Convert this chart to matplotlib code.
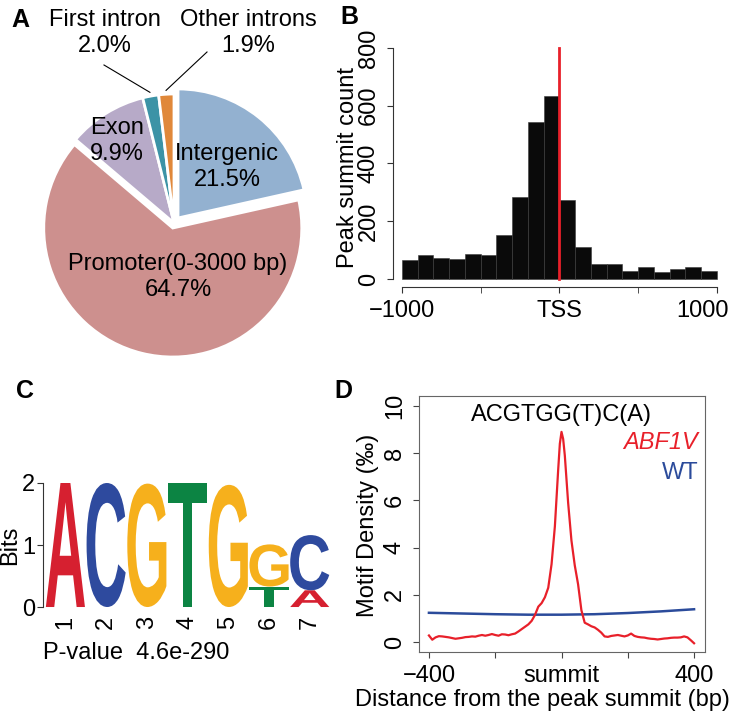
import numpy as np
import matplotlib
matplotlib.use('Agg')
import matplotlib.pyplot as plt
import matplotlib.transforms as mtransforms
from matplotlib.textpath import TextPath
from matplotlib.patches import PathPatch
from matplotlib.font_manager import FontProperties

plt.rcParams['font.family'] = ['Liberation Sans', 'DejaVu Sans']
FS = 17

# ---- data ----
# A: peak annotation
pie_labels = ['Intergenic', 'Promoter(0-3000 bp)', 'Exon', 'First intron', 'Other introns']
pie_pct = [21.5, 64.7, 9.9, 2.0, 1.9]
pie_colors = ['#93B1D0', '#CD908E', '#B7AAC8', '#3C93A6', '#E0883A']

# B: summit distance histogram (100 bp bins)
bin_edges = np.arange(-1000, 1001, 100)
summit_counts = [67, 84, 72, 69, 87, 82, 152, 284, 543, 633,
                 273, 110, 53, 53, 26, 41, 24, 36, 40, 29]

# C: motif logo (bottom -> top per position)
logo_letters = [['A'], ['C'], ['G'], ['T'], ['G'], ['T', 'G'], ['A', 'C']]
logo_heights = [[2.0], [2.0], [1.99], [2.0], [1.97], [0.33, 0.68], [0.27, 0.89]]
logo_pvalue = '4.6e-290'

# D: motif density around summit
dist_mut = [-400, -390, -380, -370, -360, -350, -340, -330, -320, -310,
            -300, -290, -280, -270, -260, -250, -240, -230, -220, -210,
            -200, -190, -180, -170, -160, -150, -140, -130, -120, -110,
            -100, -90, -80, -70, -60, -50, -40, -30, -20, -10, -5,
            0, 5, 10, 20, 30, 40, 50, 60, 70, 80, 90,
            100, 110, 120, 130, 140, 150, 160, 170, 180, 190,
            200, 210, 220, 230, 240, 250, 260, 270, 280, 290,
            300, 310, 320, 330, 340, 350, 360, 370, 380, 390, 400]
dens_mut = [0.28, 0.10, 0.20, 0.25, 0.24, 0.22, 0.20, 0.17, 0.14, 0.16,
            0.18, 0.21, 0.22, 0.24, 0.23, 0.27, 0.30, 0.27, 0.30, 0.34,
            0.30, 0.27, 0.33, 0.32, 0.29, 0.33, 0.36, 0.45, 0.55, 0.65,
            0.75, 0.90, 1.15, 1.50, 1.65, 1.90, 2.30, 3.30, 4.90, 7.30, 8.40,
            8.90, 8.60, 7.90, 5.90, 4.30, 3.25, 2.45, 1.35, 0.82, 0.75, 0.67,
            0.62, 0.52, 0.40, 0.24, 0.22, 0.26, 0.28, 0.30, 0.27, 0.24,
            0.28, 0.36, 0.26, 0.22, 0.20, 0.19, 0.16, 0.14, 0.13, 0.11,
            0.13, 0.15, 0.16, 0.18, 0.19, 0.19, 0.20, 0.24, 0.20, 0.08, -0.05]
dist_wt = [-400, -300, -200, -100, 0, 100, 200, 300, 400]
dens_wt = [1.24, 1.21, 1.18, 1.16, 1.16, 1.18, 1.23, 1.30, 1.39]

W, H = 733, 716
fig = plt.figure(figsize=(W / 100, H / 100), dpi=100)


def box(left, top, right, bottom):
    return [left / W, 1 - bottom / H, (right - left) / W, (bottom - top) / H]


def panel_letter(x, y, s):
    fig.text(x / W, 1 - y / H, s, fontsize=18, fontweight='bold', ha='center', va='center')


# ---- A: pie ----
cx, cy, R = 174, 223, 129
ax_a = fig.add_axes(box(cx - 1.35 * R, cy - 1.35 * R, cx + 1.35 * R, cy + 1.35 * R))
wedges, _ = ax_a.pie(pie_pct, colors=pie_colors, startangle=90, counterclock=False,
                     explode=[0.05, 0.04, 0.0, 0.0, 0.0],
                     wedgeprops=dict(edgecolor='white', linewidth=2))
ax_a.set_xlim(-1.35, 1.35)
ax_a.set_ylim(-1.35, 1.35)
ax_a.set_aspect('equal')
ax_a.axis('off')


def pie_xy(px, py):
    return (px - cx) / R, (cy - py) / R


ax_a.text(*pie_xy(227, 167), 'Intergenic\n21.5%', fontsize=FS, ha='center', va='center', linespacing=1.2)
ax_a.text(*pie_xy(117, 141), 'Exon\n9.9%', fontsize=FS, ha='center', va='center', linespacing=1.2)
ax_a.text(*pie_xy(178, 277), 'Promoter(0-3000 bp)\n64.7%', fontsize=FS, ha='center', va='center', linespacing=1.25)
ax_a.text(*pie_xy(105, 33), 'First intron\n2.0%', fontsize=FS, ha='center', va='center', linespacing=1.25)
ax_a.text(*pie_xy(248, 33), 'Other introns\n1.9%', fontsize=FS, ha='center', va='center', linespacing=1.25)

# leader lines for small slices
cum = np.cumsum([0] + pie_pct)
for idx, end in [(3, pie_xy(104, 65)), (4, pie_xy(207, 52))]:
    mid = 90 - (cum[idx] + pie_pct[idx] / 2) * 3.6
    sx, sy = 1.03 * np.cos(np.radians(mid)), 1.03 * np.sin(np.radians(mid))
    ax_a.plot([sx, end[0]], [sy, end[1]], color='black', lw=0.8, clip_on=False)

panel_letter(20, 20, 'A')

# ---- B: histogram ----
ax_b = fig.add_axes(box(393, 40, 725, 287))
ax_b.bar(bin_edges[:-1], summit_counts, width=100, align='edge',
         color='#0a0a0a', edgecolor='#3a3a3a', linewidth=0.4)
ax_b.plot([0, 0], [0, 800], color='#E8202A', lw=2)
ax_b.set_xlim(-1057, 1051)
ax_b.set_ylim(-27.7, 827.7)
for s in ['top', 'right']:
    ax_b.spines[s].set_visible(False)
ax_b.spines['left'].set_bounds(0, 800)
ax_b.spines['bottom'].set_bounds(-1000, 1000)
for s in ['left', 'bottom']:
    ax_b.spines[s].set_color('#333333')
ax_b.set_yticks([0, 200, 400, 600, 800])
ax_b.set_xticks([-1000, 0, 1000])
ax_b.set_xticklabels(['\u22121000', 'TSS', '1000'])
ax_b.set_xticks([-500, 500], minor=True)
ax_b.tick_params(which='both', labelsize=FS, length=4.5, color='#333333', pad=5)
plt.setp(ax_b.get_yticklabels(), rotation=90, va='center', ha='right')
last = ax_b.get_xticklabels()[2]
last.set_transform(last.get_transform() + mtransforms.ScaledTranslation(-0.14, 0, fig.dpi_scale_trans))
ax_b.set_ylabel('Peak summit count', fontsize=FS, va='center')
ax_b.yaxis.set_label_coords(-0.1355, 0.482)
panel_letter(349, 17, 'B')

# ---- C: logo ----
ax_c = fig.add_axes(box(43, 475, 335, 609))
ax_c.set_xlim(0.45, 7.62)
ax_c.set_ylim(-0.032, 2.129)
logo_font = FontProperties(family='Liberation Sans', weight='bold')
logo_colors = {'A': '#D62030', 'C': '#2E4A9E', 'G': '#F6B01C', 'T': '#0C8443'}


def draw_letter(ax, ch, x, y0, height, width=0.96):
    tp = TextPath((0, 0), ch, size=1, prop=logo_font)
    bb = tp.get_extents()
    tr = (mtransforms.Affine2D().translate(-bb.x0, -bb.y0)
          .scale(width / bb.width, height / bb.height)
          .translate(x - width / 2, y0))
    ax.add_patch(PathPatch(tr.transform_path(tp), facecolor=logo_colors[ch],
                           edgecolor='none', clip_on=False))


for pos, (letters, heights) in enumerate(zip(logo_letters, logo_heights), start=1):
    base = 0.0
    for ch, h in zip(letters, heights):
        draw_letter(ax_c, ch, pos, base, h)
        base += h

for s in ['top', 'right', 'bottom']:
    ax_c.spines[s].set_visible(False)
ax_c.spines['left'].set_bounds(0, 2)
ax_c.spines['left'].set_color('#333333')
ax_c.set_yticks([0, 1, 2])
ax_c.set_xticks(range(1, 8))
ax_c.set_xticklabels([str(i) for i in range(1, 8)], rotation=90, va='top')
ax_c.tick_params(axis='y', labelsize=FS, length=4, color='#333333', pad=1.5)
ax_c.tick_params(axis='x', labelsize=FS, length=0, pad=5)
ax_c.set_ylabel('Bits', fontsize=FS, va='baseline')
ax_c.yaxis.set_label_coords(-0.091, 0.478)
fig.text(43 / W, 1 - 653 / H, 'P-value  ' + logo_pvalue, fontsize=FS, ha='left', va='center')
panel_letter(25, 391, 'C')

# ---- D: motif density ----
ax_d = fig.add_axes(box(419, 396, 705, 652))
ax_d.plot(dist_wt, dens_wt, color='#2B4B9B', lw=1.8)
ax_d.plot(dist_mut, dens_mut, color='#E8202A', lw=1.6)
ax_d.set_xlim(-430, 433)
ax_d.set_ylim(-0.42, 10.42)
for s in ax_d.spines.values():
    s.set_color('#666666')
ax_d.set_xticks([-400, -200, 0, 200, 400])
ax_d.set_xticklabels(['\u2212400', '', 'summit', '', '400'])
ax_d.set_yticks([0, 2, 4, 6, 8, 10])
ax_d.tick_params(labelsize=FS, length=4.5, color='#444444', pad=5)
plt.setp(ax_d.get_yticklabels(), rotation=90, va='center', ha='right')
ax_d.text(0, 9.6, 'ACGTGG(T)C(A)', fontsize=FS, ha='center', va='center')
ax_d.text(412, 8.43, 'ABF1V', fontsize=FS, color='#E8202A', style='italic', ha='right', va='center')
ax_d.text(412, 7.16, 'WT', fontsize=FS, color='#2B4B9B', ha='right', va='center')
ax_d.set_ylabel('Motif Density (\u2030)', fontsize=FS, va='center')
ax_d.yaxis.set_label_coords(-0.178, 0.496)
ax_d.set_xlabel('Distance from the peak summit (bp)', fontsize=FS, va='center')
ax_d.xaxis.set_label_coords(0.43, -0.1875)
panel_letter(343, 391, 'D')

fig.savefig('out.png', dpi=100)
